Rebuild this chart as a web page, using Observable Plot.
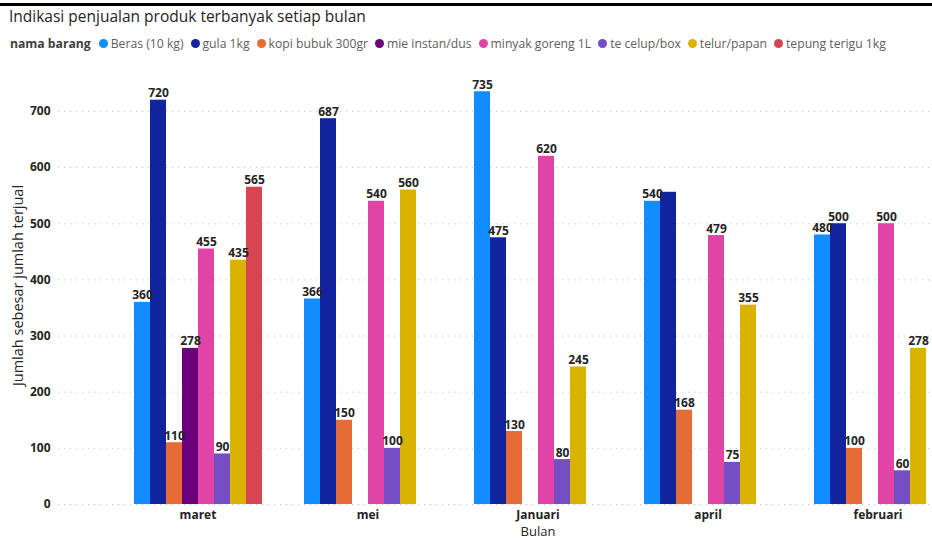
<!DOCTYPE html>
<html>
<head>
<meta charset="utf-8">
<script src="https://cdn.jsdelivr.net/npm/d3@7"></script>
<script src="https://cdn.jsdelivr.net/npm/@observablehq/plot@0.6"></script>
<style>
  html, body { margin: 0; padding: 0; background: #fff; }
  #card { position: relative; width: 932px; height: 540px; overflow: hidden; background: #fff; font-family: "Open Sans", sans-serif; }
  #topline { position: absolute; left: 0; top: 3px; width: 932px; height: 3px; background: #000; }
  #title { position: absolute; left: 9px; top: 5px; font-size: 15.5px; color: #252423; white-space: nowrap; }
  #legend { position: absolute; left: 10px; top: 35px; display: flex; align-items: center; font-size: 12.2px; color: #605E5C; white-space: nowrap; }
  #legend .ttl { font-weight: bold; color: #404040; margin-right: 8px; }
  #legend .it { display: flex; align-items: center; margin-right: 7px; }
  #legend .dot { width: 9px; height: 9px; border-radius: 50%; margin-right: 3px; }
  #chart { position: absolute; left: 0; top: 56px; width: 932px; height: 484px; }
  #chart svg { position: absolute; left: 0; top: 0; }
</style>
</head>
<body>
<div id="card">
  <div id="topline"></div>
  <div id="title"></div>
  <div id="legend"></div>
  <div id="chart"></div>
</div>
<script>
// ---- data ----
const chartTitle = "Indikasi penjualan produk terbanyak setiap bulan";
const legendTitle = "nama barang";
const xTitle = "Bulan";
const yTitle = "Jumlah sebesar jumlah terjual";
const months = ["maret", "mei", "Januari", "april", "februari"];
const items = ["Beras (10 kg)", "gula 1kg", "kopi bubuk 300gr", "mie instan/dus", "minyak goreng 1L", "te celup/box", "telur/papan", "tepung terigu 1kg"];
const colors = ["#118DFF", "#12239E", "#E66C37", "#6B007B", "#E044A7", "#744EC2", "#D9B300", "#D64550"];
// values per month (order of months)
const beras   = [360, 366, 735, 540, 480];
const gula    = [720, 687, 475, 556, 500];
const kopi    = [110, 150, 130, 168, 100];
const mie     = [278, null, null, null, null];
const minyak  = [455, 540, 620, 479, 500];
const teCelup = [90, 100, 80, 75, 60];
const telur   = [435, 560, 245, 355, 278];
const tepung  = [565, null, null, null, null];
const yTicks = [0, 100, 200, 300, 400, 500, 600, 700];
const hiddenLabels = [["april", "gula 1kg"]];

// ---- build table ----
const series = [beras, gula, kopi, mie, minyak, teCelup, telur, tepung];
const rows = [];
months.forEach((m, mi) => {
  items.forEach((it, ii) => {
    const v = series[ii][mi];
    if (v != null) rows.push({month: m, item: it, value: v});
  });
});
const labeled = rows.filter(r => !hiddenLabels.some(([m, it]) => m === r.month && it === r.item));

// ---- title & legend ----
document.getElementById("title").textContent = chartTitle;
const lg = document.getElementById("legend");
const t = document.createElement("span"); t.className = "ttl"; t.textContent = legendTitle; lg.appendChild(t);
items.forEach((it, i) => {
  const s = document.createElement("span"); s.className = "it";
  const d = document.createElement("span"); d.className = "dot"; d.style.background = colors[i];
  const tx = document.createElement("span"); tx.textContent = it;
  s.appendChild(d); s.appendChild(tx); lg.appendChild(s);
});

// ---- layout ----
const W = 985, H = 484, MT = 10, MB = 36;
const yDomain = [0, 780];
const font = "Open Sans, sans-serif";

// grid + y axis layer
const gridPlot = Plot.plot({
  width: W, height: H, marginTop: MT, marginBottom: MB, marginLeft: 58, marginRight: 0,
  style: {maxWidth: "none", background: "transparent", fontFamily: font, overflow: "visible"},
  y: {domain: yDomain},
  marks: [
    Plot.gridY(yTicks, {stroke: "#c4c4c4", strokeOpacity: 1, strokeDasharray: "1.2,4.8", strokeWidth: 1}),
    Plot.axisY(yTicks, {tickSize: 0, tickPadding: 8, fontSize: 12, fontWeight: "bold", fill: "#252423", label: null}),
    Plot.text([yTitle], {frameAnchor: "left", textAnchor: "middle", rotate: -90, dx: -40, dy: 0, fontSize: 14.5, fill: "#252423", text: d => d})
  ]
});

// bars layer
const barPlot = Plot.plot({
  width: W, height: H, marginTop: MT, marginBottom: MB, marginLeft: 130, marginRight: 39,
  style: {maxWidth: "none", background: "transparent", fontFamily: font, overflow: "visible"},
  fx: {domain: months, paddingInner: 0.228, paddingOuter: 0},
  x: {domain: items, padding: 0, axis: null},
  y: {domain: yDomain, axis: null},
  color: {domain: items, range: colors},
  marks: [
    Plot.barY(rows, {fx: "month", x: "item", y: "value", fill: "item", inset: 0}),
    Plot.text(labeled, {fx: "month", x: "item", y: "value", text: d => String(d.value), lineAnchor: "bottom", dy: -3, fontSize: 12, fontWeight: "bold", fill: "#252423"}),
    Plot.axisFx({anchor: "bottom", tickSize: 0, tickPadding: 6, fontSize: 12, fontWeight: "bold", fill: "#252423", label: null}),
    Plot.axisFx({anchor: "bottom", tickSize: 0, tickFormat: () => "", fontSize: 13, fill: "#252423", label: xTitle, labelAnchor: "center", labelOffset: 31})
  ]
});

const chart = document.getElementById("chart");
chart.appendChild(gridPlot);
chart.appendChild(barPlot);
</script>
</body>
</html>
